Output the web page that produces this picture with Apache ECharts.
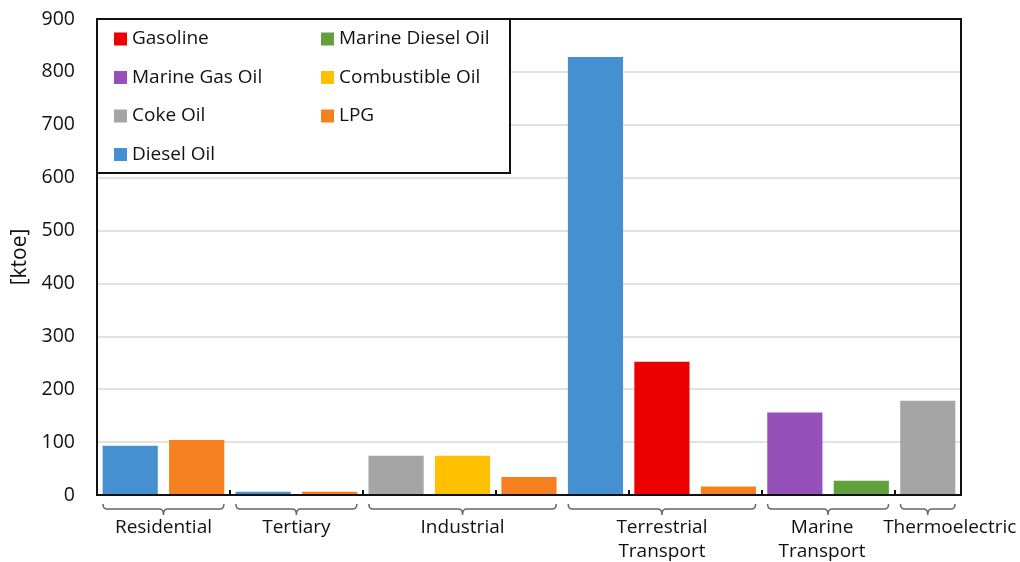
<!DOCTYPE html>
<html>
<head>
<meta charset="utf-8">
<script src="https://cdn.jsdelivr.net/npm/echarts@6/dist/echarts.min.js"></script>
<style>
  html, body { margin: 0; padding: 0; background: #fff; }
  #chart { width: 1020px; height: 562px; }
</style>
</head>
<body>
<div id="chart"></div>
<script>
// One slot per bar, left to right
const slots = ['R-Diesel', 'R-LPG', 'T-Diesel', 'T-LPG', 'I-Coke', 'I-Comb', 'I-LPG',
  'TT-Diesel', 'TT-Gasoline', 'TT-LPG', 'MT-MGO', 'MT-MDO', 'TE-Coke'];

// Fuel consumption per sector [ktoe]; null where the fuel has no bar in that slot
const gasoline        = [null, null, null, null, null, null, null, null, 252, null, null, null, null];
const marineDieselOil = [null, null, null, null, null, null, null, null, null, null, null, 27, null];
const marineGasOil    = [null, null, null, null, null, null, null, null, null, null, 156, null, null];
const combustibleOil  = [null, null, null, null, null, 74, null, null, null, null, null, null, null];
const cokeOil         = [null, null, null, null, 74, null, null, null, null, null, null, null, 178];
const lpg             = [null, 104, null, 6, null, null, 34, null, null, 16, null, null, null];
const dieselOil       = [93, null, 6, null, null, null, null, 828, null, null, null, null, null];

// Sector groups: first and last slot index, label
const groups = [
  { from: 0, to: 1, label: 'Residential' },
  { from: 2, to: 3, label: 'Tertiary' },
  { from: 4, to: 6, label: 'Industrial' },
  { from: 7, to: 9, label: 'Terrestrial\nTransport' },
  { from: 10, to: 11, label: 'Marine\nTransport' },
  { from: 12, to: 12, label: 'Thermoelectric' }
];
const groupLabelShift = [0, 0, 0, 0, -6, 22];

const yTicks = [0, 100, 200, 300, 400, 500, 600, 700, 800, 900];

const FONT = '"Open Sans", "Noto Sans", sans-serif';
const colors = {
  'Gasoline': '#ec0000',
  'Marine Diesel Oil': '#62a03c',
  'Marine Gas Oil': '#9650b9',
  'Combustible Oil': '#ffc000',
  'Coke Oil': '#a5a5a5',
  'LPG': '#f5801f',
  'Diesel Oil': '#4590d0'
};
const seriesData = [
  ['Gasoline', gasoline],
  ['Marine Diesel Oil', marineDieselOil],
  ['Marine Gas Oil', marineGasOil],
  ['Combustible Oil', combustibleOil],
  ['Coke Oil', cokeOil],
  ['LPG', lpg],
  ['Diesel Oil', dieselOil]
];

const chart = echarts.init(document.getElementById('chart'));

const legendCommon = {
  orient: 'vertical',
  top: 29.5,
  padding: 0,
  itemWidth: 13,
  itemHeight: 13,
  itemGap: 19.5,
  icon: 'rect',
  selectedMode: false,
  z: 6,
  textStyle: { fontFamily: FONT, fontSize: 19, lineHeight: 19, color: '#111' }
};

chart.setOption({
  animation: false,
  grid: { left: 97, right: 59, top: 19, bottom: 67 },
  legend: [
    Object.assign({ left: 114, data: ['Gasoline', 'Marine Gas Oil', 'Coke Oil', 'Diesel Oil'] }, legendCommon),
    Object.assign({ left: 321, data: ['Marine Diesel Oil', 'Combustible Oil', 'LPG'] }, legendCommon)
  ],
  xAxis: {
    type: 'category',
    data: slots,
    axisLine: { lineStyle: { color: '#111', width: 2 } },
    axisTick: { show: true, inside: true, length: 5, lineStyle: { color: '#111', width: 2 } },
    axisLabel: { show: false }
  },
  yAxis: {
    type: 'value',
    min: 0,
    max: 900,
    interval: 100,
    name: '[ktoe]',
    nameLocation: 'middle',
    nameGap: 66,
    nameTextStyle: { fontFamily: FONT, fontSize: 21, color: '#111' },
    axisLine: { show: true, lineStyle: { color: '#111', width: 2 } },
    axisLabel: {
      fontFamily: FONT, fontSize: 19.5, color: '#111', margin: 22,
      formatter: v => yTicks.includes(v) ? String(v) : ''
    },
    splitLine: { lineStyle: { color: '#d9d9d9', width: 1.5 } }
  },
  series: seriesData.map(([name, data]) => ({
    name,
    type: 'bar',
    data,
    barGap: '-100%',
    barCategoryGap: '17%',
    itemStyle: { color: colors[name] }
  }))
});

// Points along a quadratic curve, used to round the brace corners
function quad(p0, c, p1, n) {
  const pts = [];
  for (let k = 1; k <= n; k++) {
    const t = k / n, u = 1 - t;
    pts.push([u * u * p0[0] + 2 * u * t * c[0] + t * t * p1[0],
              u * u * p0[1] + 2 * u * t * c[1] + t * t * p1[1]]);
  }
  return pts;
}

// Plot frame, legend frame, curly braces and sector labels beneath the axis
function drawOverlay() {
  const rect = chart.getModel().getComponent('grid').coordinateSystem.getRect();
  const elements = [
    {
      type: 'rect',
      shape: { x: rect.x, y: rect.y, width: rect.width, height: rect.height },
      style: { fill: 'none', stroke: '#111', lineWidth: 2 },
      z: 8
    },
    {
      type: 'rect',
      shape: { x: rect.x, y: rect.y, width: 413, height: 154 },
      style: { fill: '#fff', stroke: '#111', lineWidth: 2 },
      z: 5
    }
  ];
  const step = chart.convertToPixel({ xAxisIndex: 0 }, 1) - chart.convertToPixel({ xAxisIndex: 0 }, 0);
  const y0 = 504, y1 = 509, y2 = 515;
  groups.forEach((g, i) => {
    const xa = chart.convertToPixel({ xAxisIndex: 0 }, g.from) - step / 2 + 6;
    const xb = chart.convertToPixel({ xAxisIndex: 0 }, g.to) + step / 2 - 6;
    const xm = (xa + xb) / 2;
    const r = 4;
    let pts = [[xa, y0]];
    pts = pts.concat(quad([xa, y0], [xa, y1], [xa + r, y1], 5));
    pts.push([xm - r, y1]);
    pts = pts.concat(quad([xm - r, y1], [xm, y1], [xm, y2], 5));
    pts = pts.concat(quad([xm, y2], [xm, y1], [xm + r, y1], 5));
    pts.push([xb - r, y1]);
    pts = pts.concat(quad([xb - r, y1], [xb, y1], [xb, y0], 5));
    elements.push({
      type: 'polyline',
      shape: { points: pts },
      style: { fill: 'none', stroke: '#666', lineWidth: 1.5 }
    });
    elements.push({
      type: 'text',
      x: xm + groupLabelShift[i],
      y: 516,
      style: {
        text: g.label, fontFamily: FONT, fontSize: 19, fill: '#111',
        align: 'center', verticalAlign: 'top', lineHeight: 24
      }
    });
  });
  chart.setOption({ graphic: elements });
}
drawOverlay();
</script>
</body>
</html>
